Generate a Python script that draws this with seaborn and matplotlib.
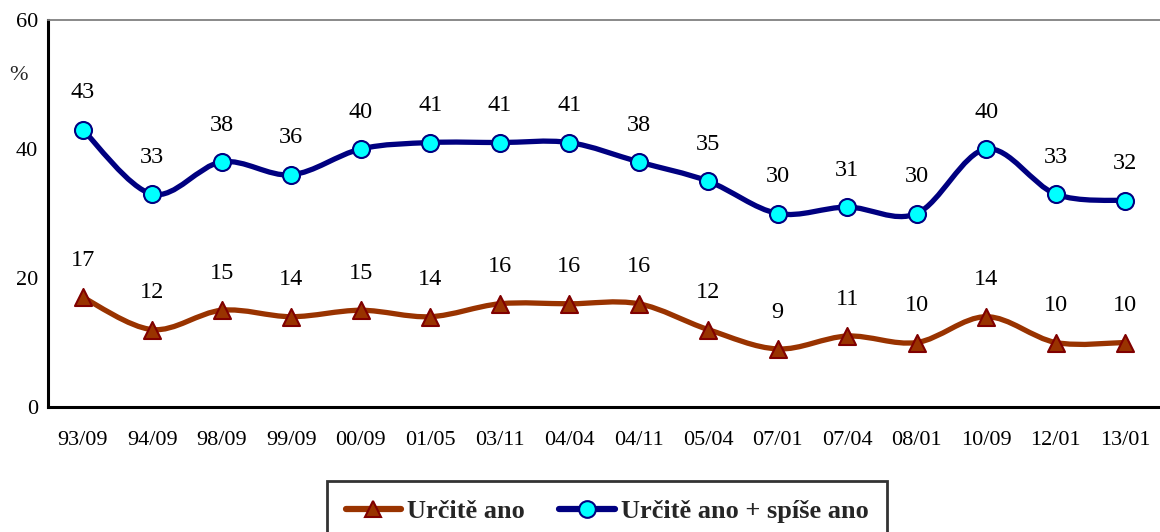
import numpy as np
import matplotlib.pyplot as plt
import seaborn as sns
import pandas as pd
from matplotlib.path import Path
from matplotlib.patches import PathPatch
from matplotlib.lines import Line2D

sns.set_theme(style="white")
plt.rcParams['font.family'] = ['Liberation Serif', 'DejaVu Serif']

# ── data ─────────────────────────────────────────────────────────────────────
periods = ['93/09', '94/09', '98/09', '99/09', '00/09', '01/05', '03/11', '04/04',
           '04/11', '05/04', '07/01', '07/04', '08/01', '10/09', '12/01', '13/01']
urcite_ano = [17, 12, 15, 14, 15, 14, 16, 16, 16, 12, 9, 11, 10, 14, 10, 10]
urcite_spise = [43, 33, 38, 36, 40, 41, 41, 41, 38, 35, 30, 31, 30, 40, 33, 32]

df = pd.DataFrame({'period': periods, 'pos': np.arange(len(periods)),
                   'ano': urcite_ano, 'spise': urcite_spise})


def smooth_path(x, y):
    # Excel-like smoothed line: cubic Bezier segments with Catmull-Rom control points
    pts = np.column_stack([x, y]).astype(float)
    verts = [pts[0]]
    codes = [Path.MOVETO]
    n = len(pts)
    for i in range(n - 1):
        p0 = pts[i - 1] if i > 0 else pts[i]
        p1, p2 = pts[i], pts[i + 1]
        p3 = pts[i + 2] if i + 2 < n else pts[i + 1]
        c1 = p1 + (p2 - p0) / 6.0
        c2 = p2 - (p3 - p1) / 6.0
        verts += [c1, c2, p2]
        codes += [Path.CURVE4] * 3
    return Path(verts, codes)


fig = plt.figure(figsize=(11.6, 5.32), dpi=100)
ax = fig.add_axes([48 / 1160, 1 - 407 / 532, 1 - 48 / 1160, (407 - 20) / 532])

series = [
    ('ano', '#993300', '^', '#993300', '#800000', 'Určitě ano'),
    ('spise', '#000080', 'o', '#00FFFF', '#000080', 'Určitě ano + spíše ano'),
]
for col, lcolor, marker, mface, medge, label in series:
    ax.add_patch(PathPatch(smooth_path(df['pos'], df[col]), facecolor='none',
                           edgecolor=lcolor, lw=3.8, capstyle='round', zorder=2))
    sns.scatterplot(data=df, x='pos', y=col, marker=marker, s=150, color=mface,
                    edgecolor=medge, linewidth=1.5, ax=ax, zorder=3, legend=False)
    for xp, v in zip(df['pos'], df[col]):
        ax.annotate(f'{v}', (xp, v), xytext=(0, 19), textcoords='offset points',
                    ha='center', va='bottom', fontsize=17.5, color='black')

ax.set_xlim(-0.5, 15.36)
ax.set_ylim(0, 60)
ax.set_yticks([0, 20, 40, 60])
ax.set_xticks(df['pos'])
ax.set_xticklabels(periods)
ax.set_xticks(np.arange(-0.5, 16, 1), minor=True)
ax.set_xlabel('')
ax.set_ylabel('')
ax.tick_params(axis='x', which='major', length=0, pad=17, labelsize=16, colors='black')
ax.tick_params(axis='x', which='minor', length=5, width=2, color='black', direction='out')
ax.tick_params(axis='y', which='major', length=5, width=2, color='black',
               direction='out', labelsize=16, pad=2, labelcolor='black')

for side in ['left', 'bottom']:
    ax.spines[side].set_color('black')
    ax.spines[side].set_linewidth(2.2)
ax.spines['top'].set_color('#808080')
ax.spines['top'].set_linewidth(1.3)
ax.spines['right'].set_visible(False)

fig.text(18 / 1160, 1 - 75 / 532, '%', fontsize=16, ha='center', va='center')

handles = [Line2D([], [], color=c, lw=4.5, marker=m, markersize=12, markerfacecolor=mf,
                  markeredgecolor=me, markeredgewidth=1.5)
           for _, c, m, mf, me, _ in series]
labels = [s[5] for s in series]
leg = fig.legend(handles, labels, loc='center', bbox_to_anchor=(607 / 1160, 1 - 511 / 532),
                 ncol=2, frameon=True, fancybox=False, edgecolor='black', handlelength=2.1,
                 columnspacing=1.3, handletextpad=0.23, borderpad=0.7,
                 prop={'weight': 'bold', 'size': 19})
leg.get_frame().set_linewidth(2)

fig.savefig('out.png', dpi=100)
